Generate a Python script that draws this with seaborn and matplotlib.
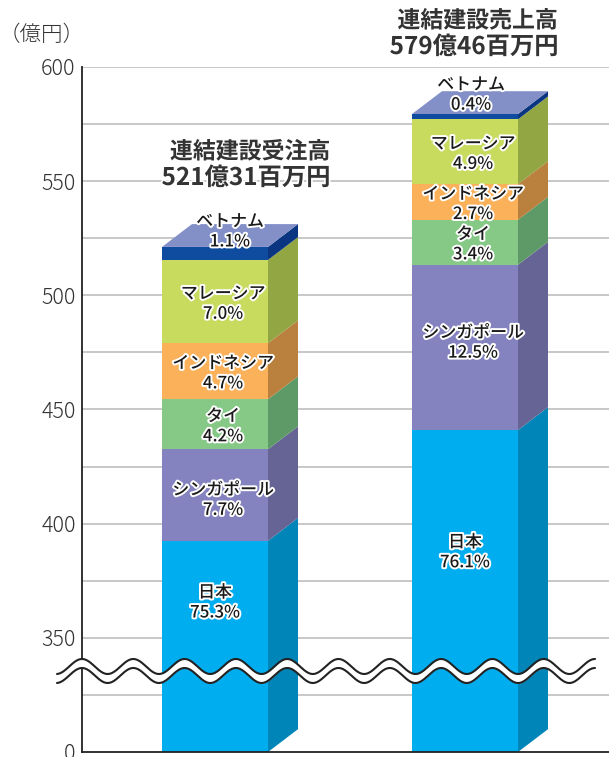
import matplotlib

matplotlib.use("Agg")

import matplotlib.patheffects as pe
import matplotlib.pyplot as plt
import matplotlib.transforms as mtransforms
import numpy as np
import seaborn as sns

W, H = 609, 757

bars = ["受注高", "売上高"]
segments = ["日本", "シンガポール", "タイ", "インドネシア", "マレーシア", "ベトナム"]
order_values = [392.5, 40.1, 21.9, 24.5, 36.5, 5.7]
sales_values = [441.0, 72.4, 19.7, 15.6, 28.4, 2.3]
order_pct = ["75.3%", "7.7%", "4.2%", "4.7%", "7.0%", "1.1%"]
sales_pct = ["76.1%", "12.5%", "3.4%", "2.7%", "4.9%", "0.4%"]
totals = [["連結建設受注高", "521億31百万円"], ["連結建設売上高", "579億46百万円"]]
tick_values = [300, 350, 400, 450, 500, 550, 600]
tick_labels = ["0", "350", "400", "450", "500", "550", "600"]
grid_values = [325, 350, 375, 400, 425, 450, 475, 500, 525, 550, 575, 600]

front = ["#00ADEF", "#8583BF", "#86C986", "#FBB05A", "#C8DB5F", "#0F4C9F"]
side = ["#0085B8", "#666494", "#5E9A68", "#B9813D", "#93A644", "#0A3580"]
top_color = "#8390C8"
ink = "#333333"

BAR_W = 106 / 250
DX = 30 / 250
DY = 10


def draw_bar(ax, i, values, pct):
    tops = np.cumsum(values)
    bottoms = np.r_[300, tops[:-1]]
    right = i + BAR_W / 2
    left = i - BAR_W / 2
    for c, (b, t) in enumerate(zip(bottoms, tops)):
        ax.fill([right, right + DX, right + DX, right], [b, b + DY, t + DY, t], color=side[c], lw=0, zorder=3)
    ax.fill([left, left + DX, right + DX, right], [tops[-1], tops[-1] + DY, tops[-1] + DY, tops[-1]], color=top_color, lw=0, zorder=3)
    for c, (b, t) in enumerate(zip(bottoms, tops)):
        mid = (b + t) / 2 - 0.9
        off = 8 / 250
        if c == 0:
            mid = t - 27 if i == 0 else t - 53.5
            off = 0
        if c == 1:
            mid += -1.2 if i == 0 else 3
        if c == 5:
            mid = t + (6.8 if i == 0 else 8.5)
            off = 15 / 250 if i == 0 else 6 / 250
        outline = [pe.withStroke(linewidth=2.8, foreground="white")]
        kw = dict(ha="center", va="center", color="#1A1A1A", fontweight="medium", path_effects=outline, zorder=6)
        ax.text(i + off, mid + 4.4, segments[c], fontsize=12.2, **kw)
        ax.text(i + off, mid - 4.4, pct[c], fontsize=12.2, **kw)


sns.set_theme(style="white")
plt.rcParams["font.family"] = ["Noto Sans CJK JP", "DejaVu Sans"]

fig = plt.figure(figsize=(W / 100, H / 100), dpi=100, facecolor="white")
ax = fig.add_axes([82 / W, 1 - 752 / H, (W - 82) / W, (752 - 67) / H])

# stacked by painting the running totals from the tallest down
order_cum = np.cumsum(order_values)
sales_cum = np.cumsum(sales_values)
for c in range(5, -1, -1):
    sns.barplot(x=bars, y=[order_cum[c], sales_cum[c]], color=front[c], saturation=1, width=BAR_W, ax=ax, zorder=4, linewidth=0)

draw_bar(ax, 0, order_values, order_pct)
draw_bar(ax, 1, sales_values, sales_pct)

ax.set_xlim(-133 / 250, 1 + 144 / 250)
ax.set_ylim(300, 600)
ax.set_xlabel("")
ax.set_ylabel("")
ax.set_xticks([])
ax.set_yticks(tick_values)
ax.set_yticklabels(tick_labels, fontsize=15.5, color=ink, fontweight="light")
ax.tick_params(axis="y", length=0, pad=4.5)
for g in grid_values:
    ax.axhline(g, color="#C4C4C4", lw=1.3, zorder=1)
for name in ["top", "right"]:
    ax.spines[name].set_visible(False)
for name in ["left", "bottom"]:
    ax.spines[name].set_color("#222222")
    ax.spines[name].set_linewidth(1.3)
    ax.spines[name].set_zorder(5)

# axis break, drawn in pixels from the top-left corner
px = mtransforms.Affine2D().scale(1, -1).translate(0, H)
xs = np.linspace(57, 595, 800)
wave = 7.5 * np.cos((xs - 82) * 2 * np.pi / 51.3)
upper = 666.5 - wave
lower = 675.5 - wave
ax.fill_between(xs, upper, lower, color="white", lw=0, transform=px, clip_on=False, zorder=7)
ax.plot(xs, upper, color="#222222", lw=1.5, transform=px, clip_on=False, zorder=8)
ax.plot(xs, lower, color="#222222", lw=1.5, transform=px, clip_on=False, zorder=8)

fig.text(41.5 / W, 1 - 35 / H, "（億円）", fontsize=15.5, color=ink, ha="center", va="center", fontweight="light")
title_outline = [pe.withStroke(linewidth=2.5, foreground="white")]
title_kw = dict(ha="center", va="center", fontweight="bold", color=ink, zorder=9, path_effects=title_outline)
fig.text(250 / W, 1 - 152 / H, totals[0][0], fontsize=16.5, **title_kw)
fig.text(246 / W, 1 - 178 / H, totals[0][1], fontsize=17.5, **title_kw)
fig.text(477.5 / W, 1 - 21 / H, totals[1][0], fontsize=16.5, **title_kw)
fig.text(474 / W, 1 - 47 / H, totals[1][1], fontsize=17.5, **title_kw)

fig.savefig("out.png", dpi=100, facecolor="white")
